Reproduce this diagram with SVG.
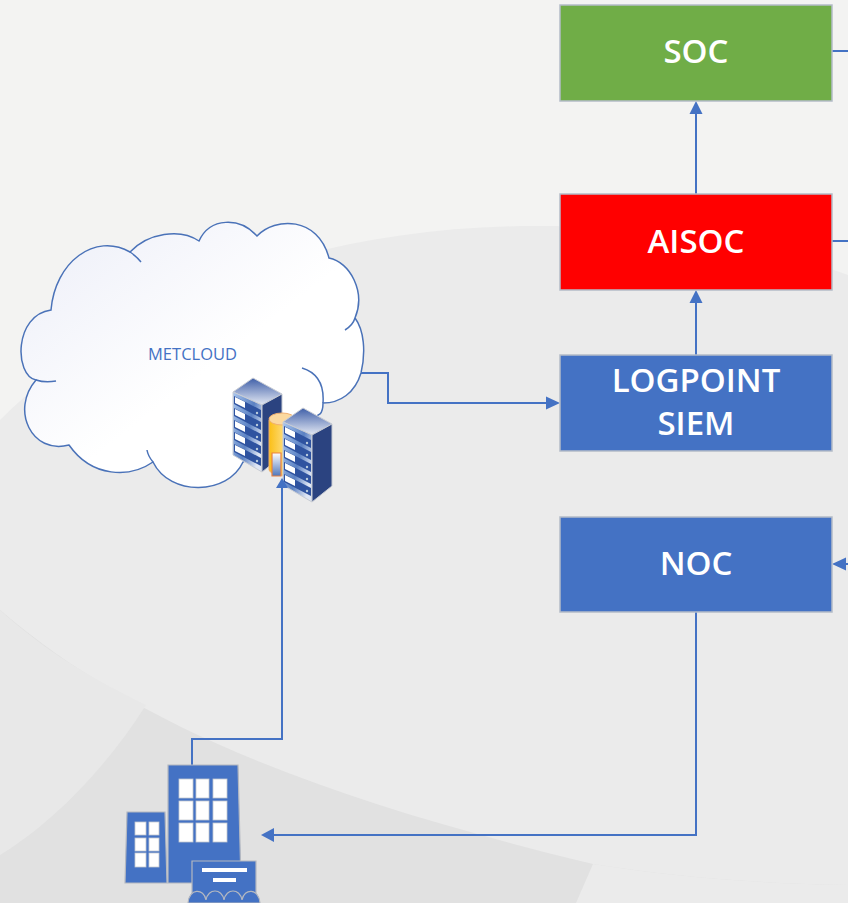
<svg xmlns="http://www.w3.org/2000/svg" width="848" height="903" viewBox="0 0 848 903">
<style>
.c{fill:none;stroke:#4472c4;stroke-width:2}
.a{fill:#4472c4;stroke:none}
.box{stroke:#b4bcc8;stroke-width:1.5}
.t{font-family:"Open Sans","Noto Sans",sans-serif;font-weight:600;font-size:33px;fill:#fff;text-anchor:middle}
.b{fill:#4472c4;stroke:#b4b8c0;stroke-width:1.2}
.w{fill:#fff;stroke:#c4c8d0;stroke-width:.8}
.sr{fill:#2b4380}
.cl{fill:none;stroke:#4a72b8;stroke-width:1.5}
</style>
<defs>
<linearGradient id="cg" x1="0" y1="0" x2="1" y2="1"><stop offset="0" stop-color="#eceef8"/><stop offset=".55" stop-color="#fff"/></linearGradient>
<linearGradient id="top" x1="0" y1="0" x2="0" y2="1"><stop offset="0" stop-color="#3f5fa8"/><stop offset="1" stop-color="#e4e9f4"/></linearGradient>
<linearGradient id="fr" x1="0" y1="0" x2="1" y2=".6"><stop offset="0" stop-color="#a9c6ee"/><stop offset=".6" stop-color="#5a80c2"/><stop offset="1" stop-color="#dfe6f4"/></linearGradient>
<linearGradient id="cy" x1="0" y1="0" x2="1" y2="0"><stop offset="0" stop-color="#fbbf16"/><stop offset="1" stop-color="#fff0c0"/></linearGradient>
<linearGradient id="dr" x1="0" y1="0" x2="0" y2="1"><stop offset="0" stop-color="#fff"/><stop offset="1" stop-color="#4f77bb"/></linearGradient>
<g id="srv">
<path d="M0 14 L20 0 L49 16 L29 27Z" fill="url(#top)" stroke="#c8ccd4"/>
<path d="M0 14 L29 27 L29 94 L0 77Z" fill="url(#fr)" stroke="#c8ccd4"/>
<path d="M29 27 L49 16 L49 78 L29 94Z" class="sr" stroke="#c8ccd4"/>
<g id="sl">
<path d="M1 18 L28 32 L28 40 L1 26Z" fill="#2f53a0"/><path d="M2 19 L12 24 L12 30 L2 25Z" fill="#fff"/><circle cx="24" cy="35" r="1.2" fill="#bcd"/>
</g>
<use href="#sl" y="12"/><use href="#sl" y="24"/><use href="#sl" y="36"/><use href="#sl" y="48"/>
</g>
</defs>
<g id="background">
<rect width="848" height="903" fill="#f3f3f2"/>
<path d="M0 420 C110 310 300 225 540 226 C660 226 780 250 848 275 L848 903 L0 903Z" fill="#ebebeb"/>
<path d="M0 610 C140 730 330 800 593 864 C680 878 770 884 848 885 L848 903 L0 903Z" fill="#e1e1e1"/>
<path d="M0 610 C50 655 95 680 146 705 C105 770 50 825 0 855Z" fill="#e8e8e8"/>
<path d="M576 903 L593 864 C680 878 770 884 848 885 L848 903Z" fill="#ebebeb"/>
</g>
<g id="connectors">
<path class="c" d="M832 51 H848"/>
<path class="c" d="M832 241 H848"/>
<path class="c" d="M696 194 V112"/><path class="a" d="M696 101 L702.500 114 H689.500Z"/>
<path class="c" d="M696 355 V302"/><path class="a" d="M696 290 L702.500 303 H689.500Z"/>
<path class="c" d="M361 373 H388 V403 H548"/><path class="a" d="M560 403 L546 396.500 V409.500Z"/>
<path class="c" d="M848 564 H844"/><path class="a" d="M832 564 L846 557.500 V570.500Z"/>
<path class="c" d="M696 612 V835 H272"/><path class="a" d="M261 835 L274 828 V842Z"/>
<path class="c" d="M192 765 V739 H282 V486"/>
</g>
<g id="soc"><rect class="box" x="560" y="5" width="272" height="96" fill="#70ad47"/><text class="t" x="696" y="63">SOC</text></g>
<g id="aisoc"><rect class="box" x="560" y="194" width="272" height="96" fill="#ff0000"/><text class="t" x="696" y="253">AISOC</text></g>
<g id="siem"><rect class="box" x="560" y="355" width="272" height="96" fill="#4472c4"/><text class="t" x="696" y="392">LOGPOINT</text><text class="t" x="696" y="435">SIEM</text></g>
<g id="noc"><rect class="box" x="560" y="517" width="272" height="95" fill="#4472c4"/><text class="t" x="696" y="575">NOC</text></g>
<g id="metcloud">
<path d="M51 310 C55 262 95 232 130 252 C148 233 180 228 199 241 C210 217 240 217 257 236 C275 217 318 216 329 258 C350 262 366 292 355 318 C364 330 366 352 361 373 C355 393 340 403 323 403 C323 408 322 412 320 414 L243 462 C228 495 170 497 153 462 C130 478 92 478 69 445 C32 455 10 410 36 380 C14 375 14 315 51 310Z" fill="url(#cg)" stroke="#4a72b8" stroke-width="1.500"/>
<path class="cl" d="M130 252 Q136 256 141 262 M355 318 Q353 325 345 330 M36 380 Q45 383 56 381 M147 450 Q148 456 153 462 M302 368 Q325 375 323 403"/>
<text x="192.500" y="360" font-family="'Open Sans','Noto Sans',sans-serif" font-size="16.500" fill="#4472c4" text-anchor="middle">METCLOUD</text>
<use href="#srv" x="233" y="378"/>
<path d="M269 420 L269 470 C272 477 290 477 295 470 L295 420Z" fill="url(#cy)" stroke="#f0b070"/>
<ellipse cx="282" cy="419" rx="13" ry="6" fill="#fbd9a0" stroke="#f0b070"/>
<path d="M272 453 H281 V476 H272Z" fill="url(#dr)" stroke="#e88040" stroke-width="1.200"/>
<use href="#srv" x="283" y="408"/>
<path class="a" d="M282 478 L276 488 H288Z"/>
</g>
<g id="building">
<path class="b" d="M127 812 H165 L167 883 H125Z"/>
<path class="b" d="M168 765 H238 L241 883 H168Z"/>
<g class="w"><rect x="135" y="822" width="11" height="13"/><rect x="149" y="822" width="10" height="13"/><rect x="135" y="838" width="11" height="13"/><rect x="149" y="838" width="10" height="13"/><rect x="135" y="853" width="11" height="14"/><rect x="149" y="853" width="10" height="14"/>
<rect x="179" y="779" width="14" height="19"/><rect x="196" y="779" width="13" height="19"/><rect x="213" y="779" width="14" height="19"/>
<rect x="179" y="801" width="14" height="19"/><rect x="196" y="801" width="13" height="19"/><rect x="213" y="801" width="14" height="19"/>
<rect x="179" y="823" width="14" height="19"/><rect x="196" y="823" width="13" height="19"/><rect x="213" y="823" width="14" height="19"/></g>
<path class="b" d="M192 861 H256 V903 H192Z"/>
<rect x="202" y="868" width="45" height="4" fill="#fff"/><rect x="213" y="878" width="23" height="4" fill="#fff"/>
<path class="b" d="M188 903 C189 888 204 888 206 900 C208 888 222 888 224 900 C226 888 240 888 242 900 C244 888 259 888 260 903Z"/>
</g>
</svg>
